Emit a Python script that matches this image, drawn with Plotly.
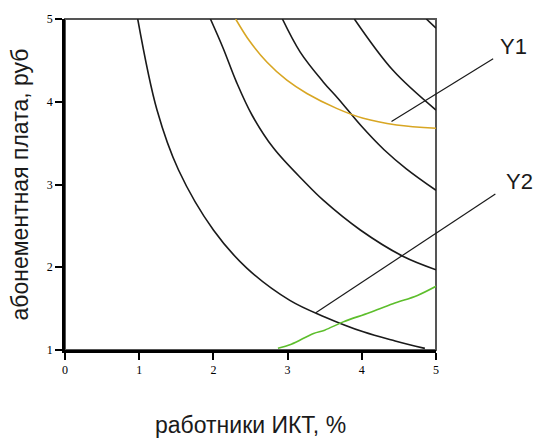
import plotly.graph_objects as go

# isolines (black)
c1_x = [0.98, 1.24, 1.53, 2.0, 2.45, 3.03, 3.5, 4.02, 4.45, 4.85]
c1_y = [5.0, 3.90, 3.175, 2.45, 1.99, 1.60, 1.40, 1.22, 1.11, 1.02]
c2_x = [1.96, 2.13, 2.31, 2.52, 2.81, 3.23, 3.48, 3.98, 4.56, 5.0]
c2_y = [5.0, 4.65, 4.24, 3.84, 3.44, 3.03, 2.81, 2.45, 2.13, 1.97]
c3_x = [2.93, 3.17, 3.48, 3.68, 4.0, 4.30, 4.6, 5.0]
c3_y = [5.0, 4.60, 4.24, 4.04, 3.70, 3.42, 3.19, 2.93]
c4_x = [3.90, 4.42, 5.0]
c4_y = [5.0, 4.38, 3.90]
c5_x = [4.87, 5.0]
c5_y = [5.0, 4.89]

# Y1 (yellow) and Y2 (green)
y1_x = [2.30, 2.49, 2.72, 2.99, 3.26, 3.66, 4.02, 4.47, 5.0]
y1_y = [5.0, 4.73, 4.48, 4.26, 4.10, 3.92, 3.80, 3.72, 3.68]
y2_x = [2.87, 3.05, 3.35, 3.50, 3.75, 4.10, 4.42, 4.75, 5.0]
y2_y = [1.02, 1.07, 1.20, 1.24, 1.34, 1.45, 1.56, 1.66, 1.77]

x_ticks = [0, 1, 2, 3, 4, 5]
y_ticks = [1, 2, 3, 4, 5]

x_title = "работники ИКТ, %"
y_title = "абонементная плата, руб"

# leader lines (data units): start on curve, end near label
lead_y1 = [(4.40, 3.76), (5.77, 4.52)]
lead_y2 = [(3.38, 1.45), (5.80, 2.885)]
label_y1 = (6.05, 4.67)
label_y2 = (6.12, 3.04)

X0, X1, YB, YT = 0, 5, 1, 5


def px(x):
    return (x - X0) / (X1 - X0)


def py(y):
    return (y - YB) / (YT - YB)


fig = go.Figure()
for xs, ys in [(c1_x, c1_y), (c2_x, c2_y), (c3_x, c3_y), (c4_x, c4_y), (c5_x, c5_y)]:
    fig.add_trace(go.Scatter(x=xs, y=ys, mode="lines", line=dict(color="#1a1a1a", width=1.6),
                             line_shape="spline", showlegend=False, hoverinfo="skip"))
fig.add_trace(go.Scatter(x=y1_x, y=y1_y, mode="lines", line=dict(color="#D8A623", width=1.6),
                         line_shape="spline", showlegend=False))
fig.add_trace(go.Scatter(x=y2_x, y=y2_y, mode="lines", line=dict(color="#5DBE2C", width=1.6),
                         line_shape="spline", showlegend=False))

shapes = [dict(type="rect", xref="paper", yref="paper", x0=0, y0=0, x1=1, y1=1,
               line=dict(color="#555555", width=2), layer="below")]
for (a, b) in [lead_y1, lead_y2]:
    shapes.append(dict(type="line", xref="paper", yref="paper",
                       x0=px(a[0]), y0=py(a[1]), x1=px(b[0]), y1=py(b[1]),
                       line=dict(color="#1a1a1a", width=1.2)))

annotations = []
for txt, (lx, ly) in [("Y1", label_y1), ("Y2", label_y2)]:
    annotations.append(dict(text=txt, xref="paper", yref="paper", x=px(lx), y=py(ly),
                            showarrow=False, xanchor="center", yanchor="middle",
                            font=dict(family="Liberation Sans", size=22, color="#1a1a1a")))
# x-axis title
annotations.append(dict(text=x_title, xref="paper", yref="paper", x=0.5, y=-0.226,
                        showarrow=False, xanchor="center", yanchor="middle",
                        font=dict(family="Liberation Sans", size=23, color="#1a1a1a")))

fig.update_layout(
    width=534, height=439,
    margin=dict(l=65, r=98, t=19, b=89),
    paper_bgcolor="white", plot_bgcolor="white",
    shapes=shapes, annotations=annotations,
    xaxis=dict(range=[X0, X1], tickvals=x_ticks, ticks="outside", ticklen=7, tickwidth=1.5,
               tickcolor="black", showline=True, linecolor="black", linewidth=2.5,
               showgrid=False, zeroline=False, automargin=False,
               tickfont=dict(family="Liberation Serif", size=12, color="black")),
    yaxis=dict(range=[YB, YT], tickvals=y_ticks, ticks="outside", ticklen=7, tickwidth=1.5,
               tickcolor="black", showline=True, linecolor="black", linewidth=2.5,
               showgrid=False, zeroline=False, automargin=False,
               tickfont=dict(family="Liberation Serif", size=12, color="black"),
               title=dict(text=y_title, standoff=12,
                          font=dict(family="Liberation Sans", size=23, color="#1a1a1a"))),
)

fig.write_html("out.html", config={"displayModeBar": False},
               post_script="document.body.style.margin='0';document.body.style.overflow='hidden';")
